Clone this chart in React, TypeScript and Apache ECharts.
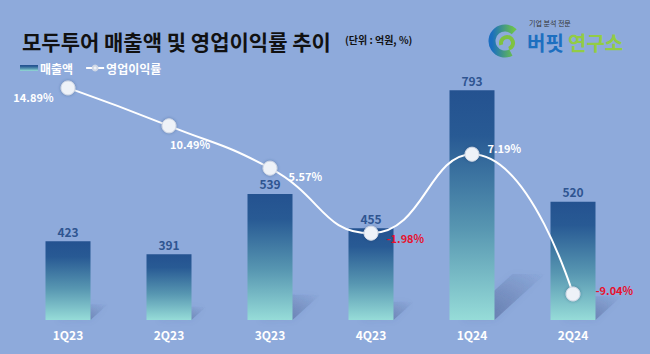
import React, { useEffect, useRef } from "react";
import * as echarts from "echarts";

const categories = ["1Q23", "2Q23", "3Q23", "4Q23", "1Q24", "2Q24"];
const sales = [423, 391, 539, 455, 793, 520];
const margin = [14.89, 10.49, 5.57, -1.98, 7.19, -9.04];
const marginLabelPos: { position: string; offset: [number, number] }[] = [
  { position: "left", offset: [-2, 9] },
  { position: "bottom", offset: [21, 0] },
  { position: "right", offset: [6, 8] },
  { position: "right", offset: [3, 5] },
  { position: "right", offset: [3, -6] },
  { position: "right", offset: [10, -4] },
];

const SALES_MIN = 230;
const SALES_MAX = 850;
const KR = '"Noto Sans CJK KR", "Noto Sans", sans-serif';

export default function App() {
  const ref = useRef<HTMLDivElement>(null);
  useEffect(() => {
    if (!ref.current) return;
    const chart = echarts.init(ref.current, null, { renderer: "svg" });
    const barGrad = new echarts.graphic.LinearGradient(0, 0, 0, 1, [
      { offset: 0, color: "#245290" },
      { offset: 0.2, color: "#285a94" },
      { offset: 0.6, color: "#5796b1" },
      { offset: 1, color: "#96dcd8" },
    ]);
    chart.setOption({
      animation: false,
      backgroundColor: "#8eaadb",
      textStyle: { fontFamily: KR },
      title: {
        text: "모두투어 매출액 및 영업이익률 추이",
        left: 17,
        top: 25,
        textStyle: { fontFamily: KR, fontSize: 21, fontWeight: "bold", color: "#111" },
      },
      legend: {
        left: 15,
        top: 57,
        itemWidth: 18,
        itemHeight: 6,
        itemGap: 12,
        textStyle: { color: "#fff", fontWeight: "bold", fontSize: 12, fontFamily: KR, padding: [0, 0, 0, -3] },
        data: [
          { name: "매출액", icon: "rect" },
          { name: "영업이익률" },
        ],
      },
      graphic: [
        {
          type: "text",
          left: 345,
          top: 34,
          style: { text: "(단위 : 억원, %)", font: `bold 10px ${KR}`, fill: "#111" },
        },
        {
          type: "arc",
          shape: { cx: 505, cy: 41, r: 13, startAngle: Math.PI * 0.35, endAngle: Math.PI * 1.75 },
          style: {
            stroke: new echarts.graphic.LinearGradient(0, 0, 1, 0, [
              { offset: 0, color: "#1a6ec0" },
              { offset: 1, color: "#6cc24a" },
            ]),
            lineWidth: 7,
            fill: "none",
          },
        },
        {
          type: "arc",
          shape: { cx: 507, cy: 43, r: 6, startAngle: Math.PI * 0.9, endAngle: Math.PI * 2.4 },
          style: { stroke: "#7fc241", lineWidth: 4, fill: "none" },
        },
        {
          type: "text",
          left: 529,
          top: 19,
          style: { text: "기업 분석 전문", font: `7px ${KR}`, fill: "#333", lineHeight: 8 },
        },
        {
          type: "text",
          left: 527,
          top: 32,
          style: { text: "버핏", font: `bold 20px ${KR}`, fill: "#1c6fc0", lineHeight: 20 },
        },
        {
          type: "text",
          left: 568,
          top: 32,
          style: { text: "연구소", font: `bold 20px ${KR}`, fill: "#92cc45", lineHeight: 20 },
        },
      ],
      grid: { left: 17.5, right: 26.5, top: 67, bottom: 34 },
      xAxis: {
        type: "category",
        data: categories,
        axisLine: { show: false },
        axisTick: { show: false },
        axisLabel: { color: "#fff", fontWeight: "bold", fontSize: 12, margin: 8, fontFamily: KR },
      },
      yAxis: [
        { type: "value", min: SALES_MIN, max: SALES_MAX, show: false, splitLine: { show: false } },
        { type: "value", min: -12.06, max: 17.32, show: false, splitLine: { show: false } },
      ],
      series: [
        {
          type: "custom",
          name: "shadow",
          silent: true,
          z: 1,
          data: sales.map((v, i) => [i, v]),
          renderItem: (params: any, api: any) => {
            const top = api.coord([api.value(0), api.value(1)]);
            const bot = api.coord([api.value(0), SALES_MIN]);
            const h = bot[1] - top[1];
            const x1 = top[0] + 22.5;
            const x0 = top[0] - 10;
            const dx = h * 0.22;
            const dy = h * 0.2;
            return {
              type: "polygon",
              shape: {
                points: [
                  [x0, bot[1]],
                  [x1, bot[1]],
                  [x1 + dx, bot[1] - dy],
                  [x0 + dx, bot[1] - dy],
                ],
              },
              style: {
                fill: new echarts.graphic.LinearGradient(0, 1, 1, 0, [
                  { offset: 0, color: "rgba(60,80,130,0.5)" },
                  { offset: 1, color: "rgba(60,80,130,0)" },
                ]),
                shadowBlur: 6,
                shadowColor: "rgba(60,80,130,0.3)",
              },
            };
          },
        },
        {
          type: "bar",
          name: "매출액",
          data: sales,
          barWidth: 45,
          z: 2,
          itemStyle: { color: barGrad },
          label: {
            show: true,
            position: "top",
            distance: 4,
            color: "#2f5591",
            fontWeight: "bold",
            fontSize: 12,
            fontFamily: KR,
          },
        },
        {
          type: "line",
          name: "영업이익률",
          yAxisIndex: 1,
          smooth: 0.5,
          z: 5,
          data: margin.map((v, i) => ({
            value: v,
            label: {
              position: marginLabelPos[i].position,
              offset: marginLabelPos[i].offset,
              color: v < 0 ? "#e8112d" : "#ffffff",
            },
          })),
          symbol: "circle",
          symbolSize: 14,
          lineStyle: { color: "#ffffff", width: 2 },
          itemStyle: {
            color: "#eef2f8",
            borderColor: "#d0d8e6",
            borderWidth: 1,
            shadowBlur: 3,
            shadowColor: "rgba(40,60,100,0.4)",
          },
          label: {
            show: true,
            fontWeight: "bold",
            fontSize: 11,
            fontFamily: KR,
            formatter: (p: any) => p.value.toFixed(2) + "%",
          },
        },
      ],
    });
    return () => chart.dispose();
  }, []);
  return (
    <div
      ref={ref}
      style={{ position: "fixed", left: 0, top: 0, width: 650, height: 354 }}
    />
  );
}
